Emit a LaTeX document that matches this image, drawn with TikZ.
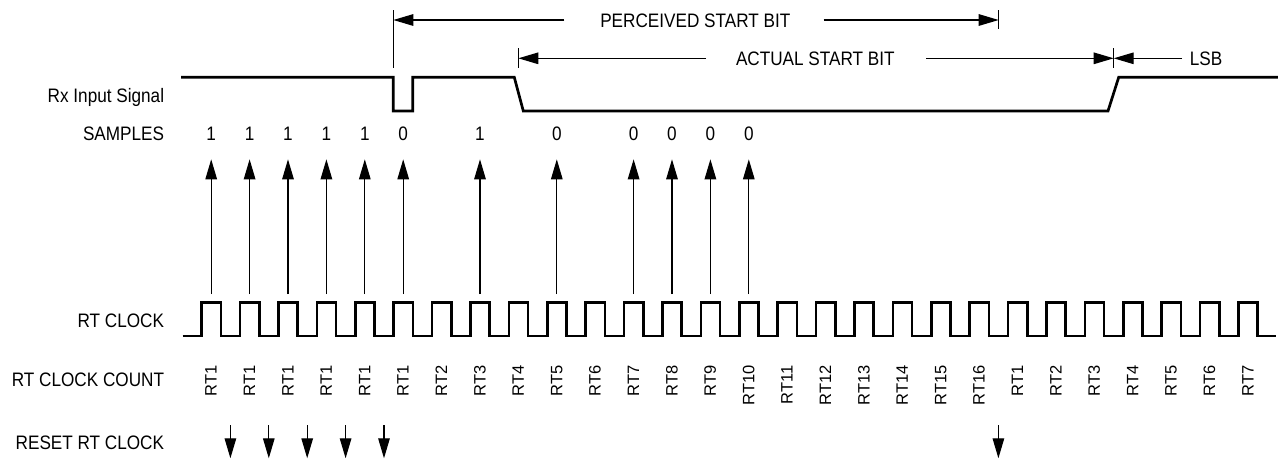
\documentclass[tikz,border=0pt]{standalone}
\usepackage{fontspec}
\setmainfont{Liberation Sans}[FakeStretch=0.88]
\newfontfamily\rtfont{Liberation Sans}
\usetikzlibrary{arrows.meta}
\tikzset{
  wave/.style={line width=2.7pt, line join=miter},
  thin arrow/.style={line width=1.3pt, -{Triangle[length=20pt,width=11.5pt]}},
  bar/.style={line width=1.1pt},
  lbl/.style={inner sep=0pt, anchor=base east, font=\fontsize{19.5}{22}\selectfont},
  txt/.style={inner sep=0pt, font=\fontsize{19.5}{22}\selectfont},
  cnt/.style={inner sep=0pt, rotate=90, anchor=base east, font=\rtfont\fontsize{16.5}{18}\selectfont}
}
\begin{document}
\begin{tikzpicture}[x=1pt,y=-1pt]
\useasboundingbox (0,0) rectangle (1278,459);
% left labels
\node[lbl] (lrx) at (164.3,102.7) {Rx Input Signal};
\node[lbl] (lsam) at (164.3,140.3) {SAMPLES};
\node[lbl] (lclk) at (164.3,327.7) {RT CLOCK};
\node[lbl] (lcnt) at (164.3,386.3) {RT CLOCK COUNT};
\node[lbl] (lrst) at (164.3,449.3) {RESET RT CLOCK};
% Rx input signal
\draw[wave] (181,77.3) -- (393.3,77.3) -- (393.3,111) -- (412.7,111) -- (412.7,77.3)
  -- (514.3,77.3) -- (523.3,111) -- (1108,111) -- (1118.7,77.3) -- (1278,77.3);
% RT clock
\draw[wave] (182.7,336)
  \foreach \k in {0,...,27} { -- ({201.7+\k*38.4},336) -- ++(0,-33.3) -- ++(19.2,0) -- ++(0,33.3) }
  -- (1276.3,336);
% clock count labels
\foreach \lab [count=\i from 0] in {RT1,RT1,RT1,RT1,RT1,RT1,RT2,RT3,RT4,RT5,RT6,RT7,RT8,RT9,RT10,RT11,RT12,RT13,RT14,RT15,RT16,RT1,RT2,RT3,RT4,RT5,RT6,RT7}
  \node[cnt] (c\i) at ({216.7+\i*38.4},365) {\lab};
% samples
\foreach \k/\v in {0/1,1/1,2/1,3/1,4/1,5/0,7/1,9/0,11/0,12/0,13/0,14/0} {
  \coordinate (sb\k) at ({211.2+\k*38.4},294);
  \coordinate (st\k) at ({211.2+\k*38.4},159.3);
  \draw[thin arrow] (sb\k) -- (st\k);
  \node[txt, anchor=base] (sv\k) at ({211.2+\k*38.4},140.3) {\v};
}
% reset arrows
\foreach \k in {0,1,2,3,4,20} {
  \coordinate (rt\k) at ({230.4+\k*38.4},425);
  \coordinate (rb\k) at ({230.4+\k*38.4},458.3);
  \draw[thin arrow] (rt\k) -- (rb\k);
}
% perceived start bit
\coordinate (pL1) at (393.3,10); \coordinate (pL2) at (393.3,68);
\coordinate (pR1) at (998.7,10); \coordinate (pR2) at (998.7,29.3);
\draw[bar] (pL1) -- (pL2);
\draw[bar] (pR1) -- (pR2);
\coordinate (pL) at (393.3,20); \coordinate (pR) at (998.7,20);
\coordinate (pa) at (564.3,20); \coordinate (pb) at (823.5,20);
\node[txt, anchor=base] (ptext) at (695.3,27.3) {PERCEIVED START BIT};
\draw[thin arrow] (pa) -- (pL);
\draw[thin arrow] (pb) -- (pR);
% actual start bit
\coordinate (aL1) at (518.3,48); \coordinate (aL2) at (518.3,68);
\coordinate (aR1) at (1113.7,48); \coordinate (aR2) at (1113.7,68.3);
\draw[bar] (aL1) -- (aL2);
\draw[bar] (aR1) -- (aR2);
\coordinate (aL) at (518.3,58.3); \coordinate (aR) at (1113.7,58.3);
\coordinate (aa) at (706,58.3); \coordinate (ab) at (926.3,58.3);
\node[txt, anchor=base] (atext) at (815.3,65.3) {ACTUAL START BIT};
\draw[thin arrow] (aa) -- (aL);
\draw[thin arrow] (ab) -- (aR);
% LSB
\coordinate (la) at (1182,58.3);
\draw[thin arrow] (la) -- (aR);
\node[txt, anchor=base west] (lsb) at (1189.7,65.3) {LSB};
\end{tikzpicture}
\end{document}
